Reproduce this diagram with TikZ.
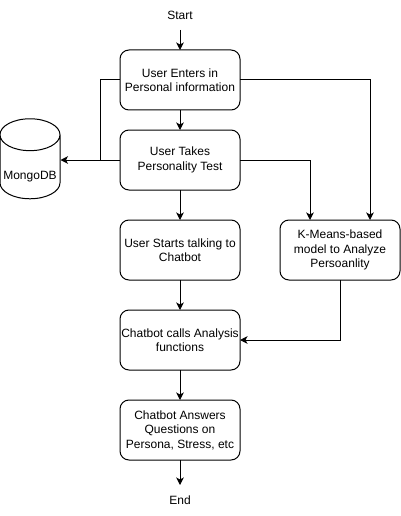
\documentclass[tikz,border=0pt]{standalone}
\usepackage{fontspec}
\setmainfont{Liberation Sans}
\usepackage{tikz}
\usetikzlibrary{arrows.meta,shapes.geometric}
\tikzset{
  stepbox/.style={draw,rounded corners=9pt,minimum width=120pt,minimum height=60pt,inner sep=0,outer sep=0,align=center},
  endlabel/.style={inner sep=0,outer sep=0},
  store/.style={draw,shape=cylinder,shape border rotate=90,shape aspect=0.55,minimum width=60pt,minimum height=80pt,inner sep=0,outer sep=0,text height=24pt,text depth=0pt,text width=58pt,align=center},
  connect/.style={-{Stealth[length=7.5pt,width=7.5pt,inset=2pt]}}
}
\begin{document}
\begin{tikzpicture}[x=1pt,y=-1pt,line width=1pt,font=\fontsize{12}{14.5}\selectfont]
    \useasboundingbox (0,0) rectangle (401,516);
    % Nodes: main column, model box, database
    \node[endlabel] (start) at (180,15) {Start};
    \node[stepbox] (enter) at (180,80) {User Enters in\\Personal information};
    \node[stepbox] (test) at (180,160) {User Takes\\Personality Test};
    \node[stepbox] (talk) at (180,250) {User Starts talking to\\Chatbot};
    \node[stepbox] (calls) at (180,340) {Chatbot calls Analysis\\functions};
    \node[stepbox] (answers) at (180,430) {Chatbot Answers\\Questions on\\Persona, Stress, etc};
    \node[endlabel] (end) at (180,500) {End};
    \node[stepbox] (kmeans) at (340,250) {K-Means-based\\model to Analyze\\Persoanlity};
    \node[store] (db) at (30,167) {MongoDB};
    % Free ends
    \coordinate (startout) at (180,30);
    \coordinate (endin) at (180,485);
    \coordinate (joint) at (100,160);
    \coordinate (dbin) at (60.5,160);
    \coordinate (kin1) at (370,220);
    \coordinate (kin2) at (310,220);
    % Connections
    \draw[connect] (startout) -- (enter);
    \draw[connect] (enter) -- (test);
    \draw[connect] (test) -- (talk);
    \draw[connect] (talk) -- (calls);
    \draw[connect] (calls) -- (answers);
    \draw[connect] (answers) -- (endin);
    \draw (enter.west) -| (joint);
    \draw[connect] (test.west) -- (dbin);
    \draw[connect] (enter.east) -| (kin1);
    \draw[connect] (test.east) -| (kin2);
    \draw[connect] (kmeans.south) |- (calls.east);
  \end{tikzpicture}
\end{document}
